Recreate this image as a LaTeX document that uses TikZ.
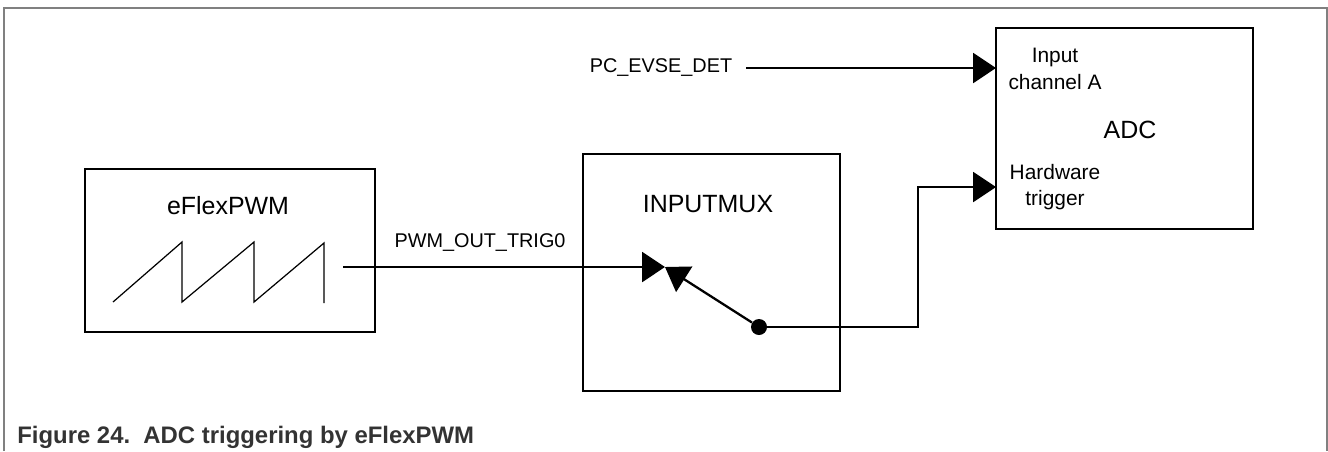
\documentclass[tikz,border=0pt]{standalone}
\usepackage{fontspec}
\setmainfont{Liberation Sans}
\usepackage{tikz}
\usetikzlibrary{positioning}
\usetikzlibrary{arrows.meta}

\definecolor{capgray}{HTML}{333333}

\begin{document}
\begin{tikzpicture}[
  x=0.02cm, y=-0.02cm,
  every node/.style={font=\fontsize{11.3}{15}\selectfont},
  box/.style={draw, line width=1.6pt, inner sep=0pt},
  title/.style={font=\fontsize{14.2}{17}\selectfont},
  port/.style={font=\fontsize{11.9}{15}\selectfont, align=center},
  wire/.style={line width=1.3pt},
  >={Triangle[length=13pt, width=17pt]}
]
\useasboundingbox (0,0) rectangle (1328,451);
% frame
\draw[gray, line width=0.7pt] (4,451) -- (4,8) -- (1327,8) -- (1327,451);

% blocks
\node[box, minimum width=5.8cm, minimum height=3.26cm] (pwm) at (230,250.5) {};
\node[box, minimum width=5.14cm, minimum height=4.74cm] (mux) at (711.5,272.5) {};
\node[box, minimum width=5.14cm, minimum height=4.02cm] (adc) at (1124.5,128.5) {};

\node[title] (pwmtitle) at ([yshift=-0.76cm, xshift=-0.04cm]pwm.north) {eFlexPWM};
\node[title] (muxtitle) at ([yshift=-1.02cm, xshift=-0.07cm]mux.north) {INPUTMUX};
\node[title] (adctitle) at ([xshift=0.11cm, yshift=-0.03cm]adc.center) {ADC};

% sawtooth
\draw[line width=0.7pt] (113,302) -- (182,242) -- (182,302) -- (254,242)
  -- (254,302) -- (324,243) -- (324,303);

% ports
\coordinate (inA) at (996,68);
\coordinate (hwin) at (996,187);
\coordinate (pwmout) at (343,267);
\coordinate (muxin) at (665,267);

\node[port] (inAtxt) at (1055,69) {Input\\channel A};
\node[port] (hwtxt) at (1055,187) {Hardware\\trigger};

\node (evse) at (661,68) {PC\_EVSE\_DET};
\draw[wire, ->, shorten <=0.16cm] (evse) -- (inA);

\draw[wire, ->] (pwmout) -- (muxin);
\node (trig) at (480,243) {PWM\_OUT\_TRIG0};

% switch
\node[circle, fill, inner sep=0pt, minimum size=0.32cm] (pivot) at (759,327) {};
\draw[wire, ->] (pivot) -- (muxin);
\draw[wire, ->] (pivot) -- ++(159,0) |- (hwin);

\node[anchor=west, inner sep=0pt, text=capgray,
  font=\bfseries\fontsize{13.6}{16}\selectfont] (caption) at (17,437)
  {Figure 24.\ \ ADC triggering by eFlexPWM};
\end{tikzpicture}
\end{document}
